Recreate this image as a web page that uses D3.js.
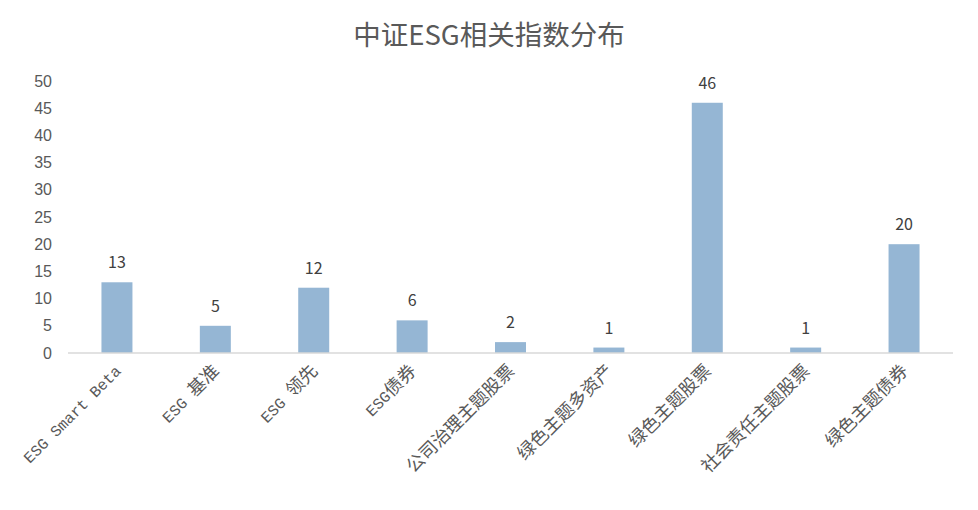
<!DOCTYPE html>
<html lang="zh">
<head>
    <meta charset="UTF-8">
    <title>中证ESG相关指数分布</title>
    <script src="https://d3js.org/d3.v7.min.js"></script>
    <style>
        body { margin: 0; background: #fff; }
        svg { display: block; font-family: "Noto Sans CJK SC", "Noto Sans", sans-serif; }
        .tick text { fill: #595959; font-size: 16px; }
    </style>
</head>
<body>
    <svg></svg>
    <script>
        // data
        const categories = ["ESG Smart Beta", "ESG 基准", "ESG 领先", "ESG债券", "公司治理主题股票",
            "绿色主题多资产", "绿色主题股票", "社会责任主题股票", "绿色主题债券"];
        const counts = [13, 5, 12, 6, 2, 1, 46, 1, 20];
        const yTicks = [0, 5, 10, 15, 20, 25, 30, 35, 40, 45, 50];

        const width = 978, height = 510;
        const margin = { top: 81, right: 25, bottom: 157, left: 68 };
        const svg = d3.select("svg").attr("width", width).attr("height", height);

        const x = d3.scaleBand()
            .domain(categories)
            .range([margin.left, width - margin.right])
            .paddingInner(0.685)
            .paddingOuter(0.34);

        const y = d3.scaleLinear()
            .domain([0, 50])
            .range([height - margin.bottom, margin.top]);

        // title
        svg.append("text")
            .attr("x", 489)
            .attr("y", 45)
            .attr("text-anchor", "middle")
            .style("font-size", "27.5px")
            .style("fill", "#595959")
            .text("中证ESG相关指数分布");

        // y axis, no line
        const yAxis = svg.append("g")
            .attr("transform", `translate(${margin.left - 16},0)`)
            .call(d3.axisLeft(y).tickValues(yTicks).tickSize(0).tickPadding(0));
        yAxis.select(".domain").remove();

        // bars
        svg.append("g").selectAll("rect")
            .data(counts)
            .enter().append("rect")
            .attr("x", (d, i) => x(categories[i]))
            .attr("y", d => y(d))
            .attr("width", x.bandwidth())
            .attr("height", d => y(0) - y(d))
            .attr("fill", "#95B6D4");

        // value labels
        svg.append("g").selectAll("text")
            .data(counts)
            .enter().append("text")
            .attr("x", (d, i) => x(categories[i]) + x.bandwidth() / 2)
            .attr("y", d => y(d) - 14)
            .attr("text-anchor", "middle")
            .style("font-size", "16px")
            .style("fill", "#404040")
            .text(d => d);

        // baseline
        svg.append("line")
            .attr("x1", margin.left)
            .attr("x2", width - margin.right)
            .attr("y1", y(0))
            .attr("y2", y(0))
            .attr("stroke", "#d9d9d9")
            .attr("stroke-width", 1.5);

        // x labels rotated; latin runs in a narrower mono face, CJK bigger
        const xAxis = svg.append("g")
            .attr("transform", `translate(0,${y(0)})`)
            .call(d3.axisBottom(x).tickSize(0).tickPadding(0));
        xAxis.select(".domain").remove();
        xAxis.selectAll(".tick text")
            .attr("text-anchor", "end")
            .attr("dy", null)
            .attr("transform", "translate(5,19) rotate(-45)")
            .style("fill", "#595959")
            .each(function(d) {
                const t = d3.select(this).text("");
                const runs = d.match(/[\x00-\x7f]+|[^\x00-\x7f]+/g);
                runs.forEach(r => {
                    const latin = /^[\x00-\x7f]/.test(r);
                    t.append("tspan")
                        .style("font-family", latin ? "'Liberation Mono', monospace" : "'Noto Sans CJK SC'")
                        .style("font-size", latin ? "15.5px" : "18px")
                        .text(r);
                });
            });
    </script>
</body>
</html>
